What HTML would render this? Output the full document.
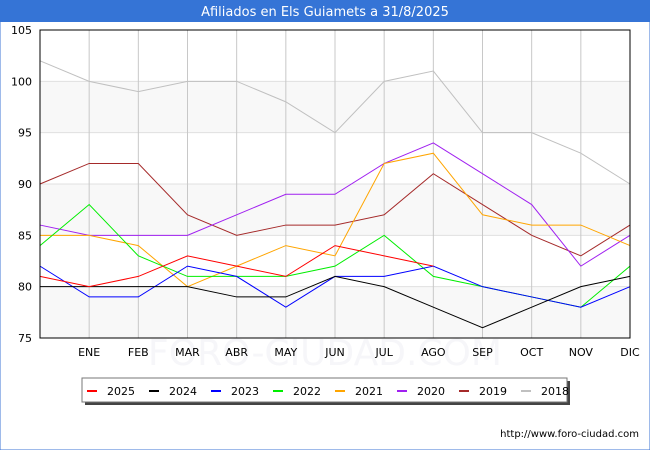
<!DOCTYPE html>
<html><head><meta charset="utf-8"><style>
body{margin:0;width:650px;height:450px;background:#fff;font-family:"Liberation Sans","DejaVu Sans",sans-serif;overflow:hidden}
</style></head><body>
<svg width="650" height="450" xmlns="http://www.w3.org/2000/svg">
<rect x="0" y="0" width="650" height="450" fill="#fff" stroke="#3c74d6"/>
<rect x="0" y="0" width="650" height="22" fill="#3574d6"/>
<text x="325" y="16" text-anchor="middle" fill="#fff" font-size="13" font-family="DejaVu Sans, sans-serif">Afiliados en Els Guiamets a 31/8/2025</text>
<g id="bands"></g>
<text x="325" y="365" text-anchor="middle" fill="#f6f6f9" font-size="36" font-family="DejaVu Sans, sans-serif">FORO-CIUDAD.COM</text>
<g id="grid"></g><g id="series"></g><g id="axes"></g>
<rect x="85" y="381" width="485" height="24" fill="#444"/>
<rect x="82" y="378" width="485" height="24" fill="#fff" stroke="#777"/>
<g id="legend"></g>
<text x="639" y="437" text-anchor="end" font-size="10" font-family="DejaVu Sans, sans-serif" fill="#000">http://www.foro-ciudad.com</text>
</svg>
<script>
const categories=["","ENE","FEB","MAR","ABR","MAY","JUN","JUL","AGO","SEP","OCT","NOV","DIC"];
const yTicks=[75,80,85,90,95,100,105];
const seriesNames=["2025","2024","2023","2022","2021","2020","2019","2018"];
const seriesColors=["#ff0000","#000000","#0000ff","#00ee00","#ffa500","#a020f0","#a52a2a","#c0c0c0"];
const s2025=[81,80,81,83,82,81,84,83,82];
const s2024=[80,80,80,80,79,79,81,80,78,76,78,80,81];
const s2023=[82,79,79,82,81,78,81,81,82,80,79,78,80];
const s2022=[84,88,83,81,81,81,82,85,81,80,79,78,82];
const s2021=[85,85,84,80,82,84,83,92,93,87,86,86,84];
const s2020=[86,85,85,85,87,89,89,92,94,91,88,82,85];
const s2019=[90,92,92,87,85,86,86,87,91,88,85,83,86];
const s2018=[102,100,99,100,100,98,95,100,101,95,95,93,90];
const allSeries=[s2025,s2024,s2023,s2022,s2021,s2020,s2019,s2018];
const L=40,R=630,T=30,B=338,yMin=75,yMax=105;
const x=i=>L+(R-L)*i/(categories.length-1);
const y=v=>B-(B-T)*(v-yMin)/(yMax-yMin);
const NS="http://www.w3.org/2000/svg";
function mk(tag,parent,attrs){const e=document.createElementNS(NS,tag);for(const k in attrs)e.setAttribute(k,attrs[k]);document.getElementById(parent).appendChild(e);return e;}
for(let i=0;i<yTicks.length-1;i++){
 const e=mk('rect','bands',{x:L,y:y(yTicks[i+1]),width:R-L,height:y(yTicks[i])-y(yTicks[i+1]),fill:i%2==0?'#f8f8f8':'#ffffff'});
 
 
}
yTicks.forEach(t=>{
 const g=mk('line','grid',{x1:L,x2:R,y1:y(t),y2:y(t),stroke:'#e0e0e0'});
 
 
 const l=mk('text','axes',{x:L-8,y:y(t)+4,'text-anchor':'end','font-size':'11','font-family':'DejaVu Sans, sans-serif'});
 l.textContent=t;
 
 
});
categories.forEach((c,i)=>{
 if(i>0){const g=mk('line','grid',{x1:x(i),x2:x(i),y1:T,y2:B,stroke:'#c8c8c8'});
 
 }
 if(c){const l=mk('text','axes',{x:x(i),y:B+18,'text-anchor':'middle','font-size':'11','font-family':'DejaVu Sans, sans-serif'});
 l.textContent=c;
 
 }
});
const fr=mk('rect','axes',{x:L,y:T,width:R-L,height:B-T,fill:'none',stroke:'#000'});


for(let k=allSeries.length-1;k>=0;k--){
 const pts=allSeries[k].map((v,i)=>x(i)+','+y(v)).join(' ');
 const p=mk('polyline','series',{points:pts,fill:'none',stroke:seriesColors[k],'stroke-width':'1'});
 
 
}
seriesNames.forEach((n,k)=>{
 const lx=87+k*62;
 const ln=mk('line','legend',{x1:lx,x2:lx+10,y1:391,y2:391,stroke:seriesColors[k],'stroke-width':'2'});
 
 
 const t=mk('text','legend',{x:lx+20,y:395,'font-size':'11','font-family':'DejaVu Sans, sans-serif'});
 t.textContent=n;
 
 
});
</script>
</body></html>
